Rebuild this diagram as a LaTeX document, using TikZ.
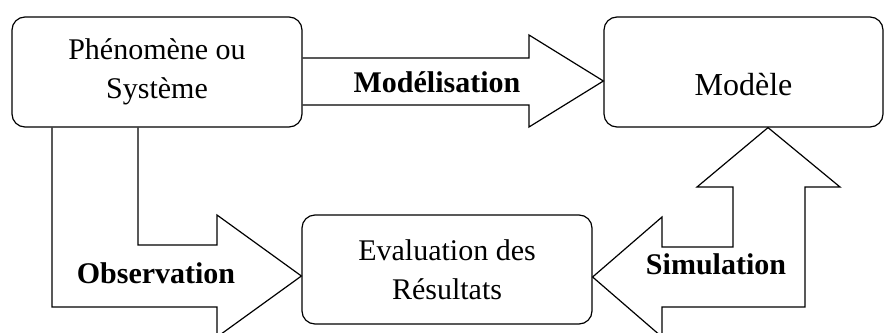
\documentclass[tikz,border=0pt]{standalone}
\usepackage{fontspec}
\setmainfont{Liberation Serif}
\begin{document}
\begin{tikzpicture}[x=1pt,y=-1pt,line width=1.2pt,
    boite/.style={draw,rounded corners=13pt,align=center,inner sep=0pt,
        font=\fontsize{30}{39}\selectfont},
    etiq/.style={font=\fontsize{30}{34}\selectfont\bfseries,anchor=base}]
            \clip (0,0) rectangle (885,332);
            % les trois blocs
            \node[boite,minimum width=290pt,minimum height=110pt] (pheno) at (157,72) {Phénomène ou\\Système};
            \node[boite,minimum width=279pt,text height=78pt,text depth=32pt,anchor=base,
                font=\fontsize{32}{38}\selectfont] (modele) at (743.5,95) {Modèle};
            \node[boite,minimum width=290pt,minimum height=109pt] (eval) at (447,269.5) {Evaluation des\\Résultats};
            % fleche modelisation
            \draw (pheno.east |- 0,58) -- (529,58) -- (529,35) -- (modele.west |- 0,81)
                -- (529,127) -- (529,105) -- (pheno.east |- 0,105);
            \node[etiq] (lmod) at (437,92) {Modélisation};
            % fleche observation
            \draw (pheno.south -| 52,0) -- (52,307) -- (217,307) -- (217,337) -- (eval.west |- 0,276)
                -- (217,215) -- (217,245) -- (138,245) -- (pheno.south -| 138,0);
            \node[etiq] (lobs) at (156,283) {Observation};
            % fleche simulation
            \draw (eval.east |- 0,277) -- (662,217) -- (662,247) -- (733,247) -- (733,187) -- (697,187)
                -- (modele.south -| 768,0) -- (840,187) -- (805,187) -- (805,307) -- (662,307)
                -- (662,337) -- cycle;
            \node[etiq] (lsim) at (716,274) {Simulation};
        \end{tikzpicture}
\end{document}
